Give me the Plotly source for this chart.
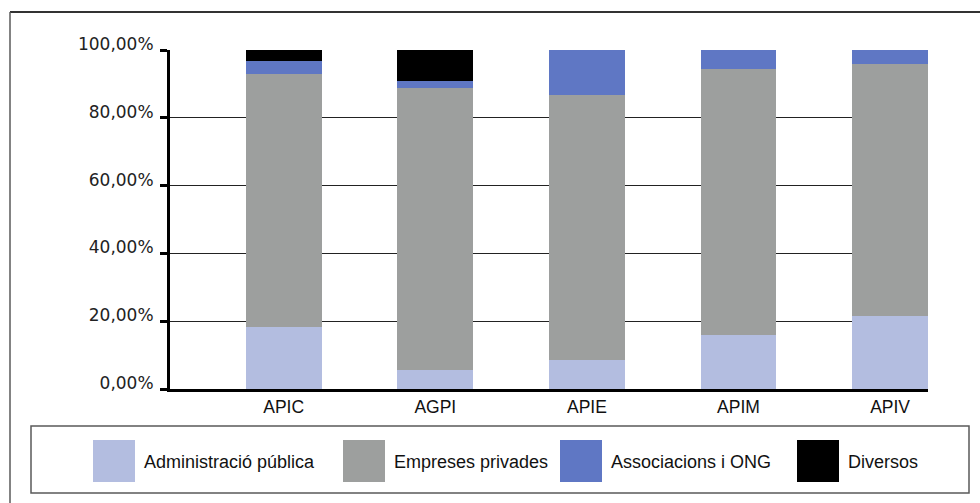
import plotly.graph_objects as go

# dades (fraccions sobre el total de cada autoritat portuària)
ports = ['APIC', 'AGPI', 'APIE', 'APIM', 'APIV']
admin_publica = [0.183, 0.056, 0.086, 0.159, 0.216]
empreses_privades = [0.747, 0.832, 0.781, 0.785, 0.744]
associacions_ong = [0.038, 0.021, 0.133, 0.056, 0.040]
diversos = [0.032, 0.091, 0.000, 0.000, 0.000]

series = [
    ('Administració pública', admin_publica, '#B3BDE0'),
    ('Empreses privades', empreses_privades, '#9D9F9E'),
    ('Associacions i ONG', associacions_ong, '#5F77C4'),
    ('Diversos', diversos, '#000000'),
]

W, H = 980, 503
L, R, T, B = 170, 52, 50, 114


def px(x):
    return (x - L) / (W - L - R)


def py(y):
    return (H - B - y) / (H - T - B)


fig = go.Figure()
for name, vals, col in series:
    fig.add_trace(go.Bar(
        x=ports, y=vals, name=name,
        marker=dict(color=col, line=dict(width=0)),
        width=0.5, showlegend=False))

shapes = [
    # marc exterior (només dalt i esquerra visibles)
    dict(type='line', xref='paper', yref='paper', x0=px(10), x1=px(982),
         y0=py(12), y1=py(12), line=dict(color='#333333', width=2)),
    dict(type='line', xref='paper', yref='paper', x0=px(10), x1=px(10),
         y0=py(12), y1=py(505), line=dict(color='#5a5a5a', width=1.5)),
    # caixa de la llegenda
    dict(type='rect', xref='paper', yref='paper', x0=px(31), x1=px(969),
         y0=py(426), y1=py(493), line=dict(color='#5a5a5a', width=1.5)),
]
annotations = []
swatch_x = [93, 343, 560, 797]
for (name, vals, col), sx in zip(series, swatch_x):
    shapes.append(dict(type='rect', xref='paper', yref='paper',
                       x0=px(sx), x1=px(sx + 42), y0=py(440), y1=py(482),
                       fillcolor=col, line=dict(width=0)))
    annotations.append(dict(xref='paper', yref='paper', x=px(sx + 49), y=py(462),
                            text=name, showarrow=False, xanchor='left', yanchor='middle',
                            font=dict(family='Liberation Sans', size=18, color='#111111')))

fig.update_layout(
    barmode='stack',
    width=W, height=H,
    margin=dict(l=L, r=R, t=T, b=B),
    paper_bgcolor='white', plot_bgcolor='white',
    separators=', ',
    shapes=shapes,
    annotations=annotations,
)
fig.update_xaxes(
    type='category', range=[-0.75, 4.25],
    showline=True, linecolor='black', linewidth=3,
    ticks='', showgrid=False,
    tickfont=dict(family='Liberation Sans', size=17.5, color='#111111'),
)
fig.update_yaxes(
    range=[0, 1], tickvals=[0, 0.2, 0.4, 0.6, 0.8, 1.0], tickformat='.2%',
    showline=True, linecolor='black', linewidth=3,
    ticks='outside', ticklen=7, tickwidth=3, tickcolor='black',
    showgrid=True, gridcolor='#222222', gridwidth=1,
    zeroline=False, ticklabelshift=-6, ticklabelstandoff=3,
    tickfont=dict(family='DejaVu Sans', size=17, color='#222222'),
)

fig.write_html('out.html', config={'displayModeBar': False},
               post_script="document.body.style.margin='0';")
